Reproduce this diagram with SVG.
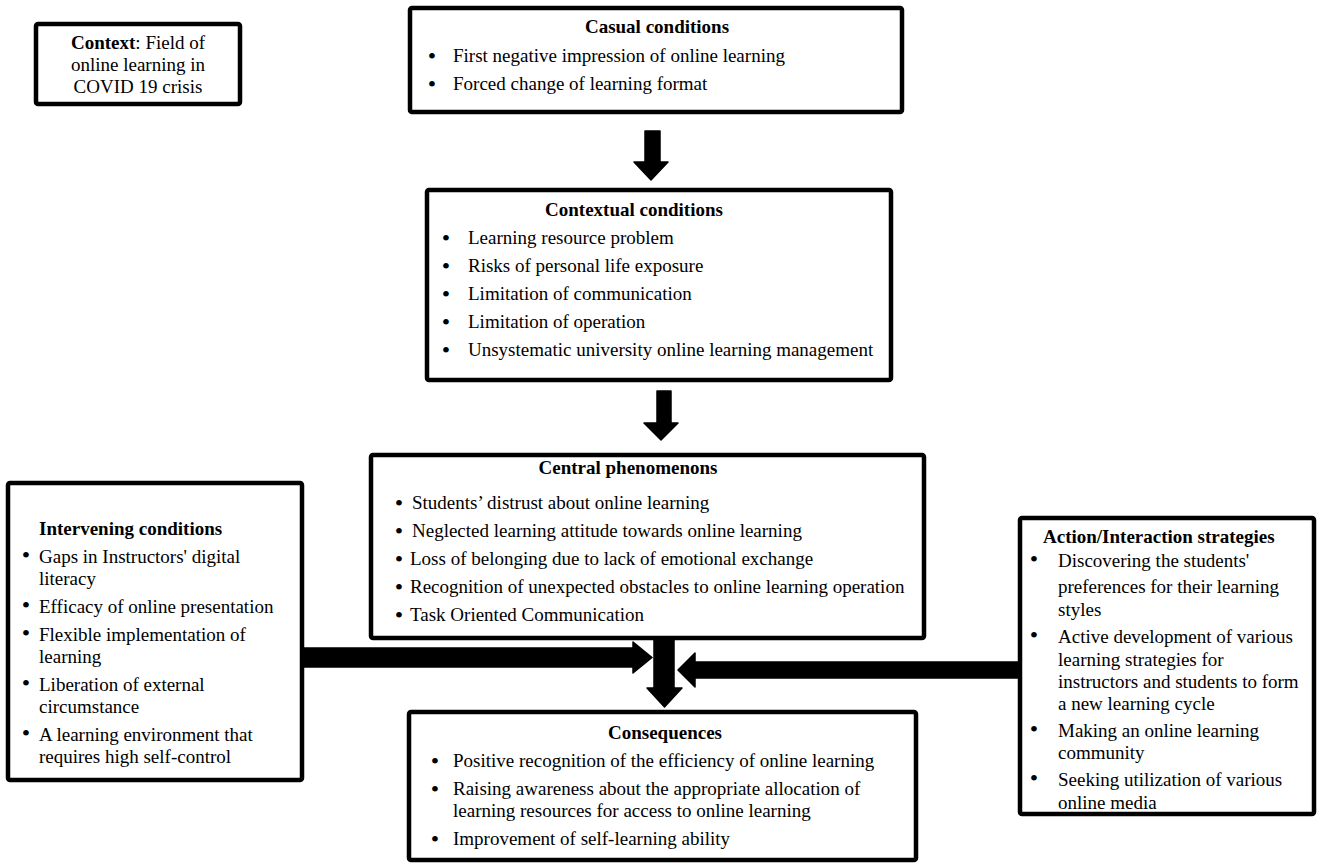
<svg xmlns="http://www.w3.org/2000/svg" width="1325" height="868" viewBox="0 0 1325 868">
<style>
.box{fill:#fff;stroke:#000;stroke-width:4.5;stroke-linejoin:round}
.arr{fill:#000;stroke:#000;stroke-width:1.5;stroke-linejoin:round}
text{font-family:"Liberation Serif","Times New Roman",serif;font-size:19px;fill:#000}
.t{font-weight:bold}
.c{text-anchor:middle}
.b{font-size:24px;text-anchor:middle}
</style>
<rect width="1325" height="868" fill="#fff"/>
<g id="connectors">
<polygon class="arr" points="645,131 660,131 660,162 668,162 651,180 634,162 645,162"/>
<polygon class="arr" points="657,391 671,391 671,423 678,423 661,440 644,423 657,423"/>
<polygon class="arr" points="303,648 633,648 633,642 652,657.5 633,673 633,667 303,667"/>
<polygon class="arr" points="654,639 674,639 674,688 682,688 664.5,707 647,688 654,688"/>
<polygon class="arr" points="1018,662 695,662 695,653 678,670 695,687 695,678 1018,678"/>
</g>
<g id="context">
<rect class="box" x="36" y="24" width="204" height="80" rx="2"/>
<text class="c" x="138" y="49"><tspan class="t">Context</tspan>: Field of</text>
<text class="c" x="138" y="71">online learning in</text>
<text class="c" x="138" y="93">COVID 19 crisis</text>
</g>
<g id="casual">
<rect class="box" x="410" y="8" width="492" height="104" rx="2"/>
<text class="t c" x="657" y="33">Casual conditions</text>
<text class="b" x="432" y="64">•</text><text x="453" y="62">First negative impression of online learning</text>
<text class="b" x="432" y="92">•</text><text x="453" y="90">Forced change of learning format</text>
</g>
<g id="contextual">
<rect class="box" x="427" y="190" width="464" height="190" rx="2"/>
<text class="t c" x="634" y="216">Contextual conditions</text>
<text class="b" x="446" y="246">•</text><text x="468" y="244">Learning resource problem</text>
<text class="b" x="446" y="274">•</text><text x="468" y="272">Risks of personal life exposure</text>
<text class="b" x="446" y="302">•</text><text x="468" y="300">Limitation of communication</text>
<text class="b" x="446" y="330">•</text><text x="468" y="328">Limitation of operation</text>
<text class="b" x="446" y="358">•</text><text x="468" y="356">Unsystematic university online learning management</text>
</g>
<g id="central">
<rect class="box" x="371" y="455" width="553" height="183" rx="2"/>
<text class="t c" x="628" y="474">Central phenomenons</text>
<text class="b" x="399" y="511">•</text><text x="412" y="509">Students’ distrust about online learning</text>
<text class="b" x="399" y="539">•</text><text x="412" y="537">Neglected learning attitude towards online learning</text>
<text class="b" x="399" y="567">•</text><text x="410" y="565">Loss of belonging due to lack of emotional exchange</text>
<text class="b" x="399" y="595">•</text><text x="410" y="593">Recognition of unexpected obstacles to online learning operation</text>
<text class="b" x="399" y="623">•</text><text x="410" y="621">Task Oriented Communication</text>
</g>
<g id="intervening">
<rect class="box" x="8" y="483" width="294" height="297" rx="2"/>
<text class="t" x="39" y="535">Intervening conditions</text>
<text class="b" x="26" y="563">•</text><text x="39" y="563">Gaps in Instructors' digital</text>
<text x="39" y="585">literacy</text>
<text class="b" x="26" y="613">•</text><text x="39" y="613">Efficacy of online presentation</text>
<text class="b" x="26" y="641">•</text><text x="39" y="641">Flexible implementation of</text>
<text x="39" y="663">learning</text>
<text class="b" x="26" y="691">•</text><text x="39" y="691">Liberation of external</text>
<text x="39" y="713">circumstance</text>
<text class="b" x="26" y="741">•</text><text x="39" y="741">A learning environment that</text>
<text x="39" y="763">requires high self-control</text>
</g>
<g id="action">
<rect class="box" x="1020" y="518" width="294" height="296" rx="2"/>
<text class="t" x="1043" y="543">Action/Interaction strategies</text>
<text class="b" x="1034" y="567">•</text><text x="1058" y="567">Discovering the students'</text>
<text x="1058" y="593">preferences for their learning</text>
<text x="1058" y="616">styles</text>
<text class="b" x="1034" y="643">•</text><text x="1058" y="643">Active development of various</text>
<text x="1058" y="666">learning strategies for</text>
<text x="1058" y="688">instructors and students to form</text>
<text x="1058" y="710">a new learning cycle</text>
<text class="b" x="1034" y="737">•</text><text x="1058" y="737">Making an online learning</text>
<text x="1058" y="759">community</text>
<text class="b" x="1034" y="786">•</text><text x="1058" y="786">Seeking utilization of various</text>
<text x="1058" y="809">online media</text>
</g>
<g id="consequences">
<rect class="box" x="409" y="712" width="507" height="148" rx="2"/>
<text class="t c" x="665" y="739">Consequences</text>
<text class="b" x="435" y="769">•</text><text x="453" y="767">Positive recognition of the efficiency of online learning</text>
<text class="b" x="435" y="797">•</text><text x="453" y="795">Raising awareness about the appropriate allocation of</text>
<text x="453" y="817">learning resources for access to online learning</text>
<text class="b" x="435" y="847">•</text><text x="453" y="845">Improvement of self-learning ability</text>
</g>
</svg>
